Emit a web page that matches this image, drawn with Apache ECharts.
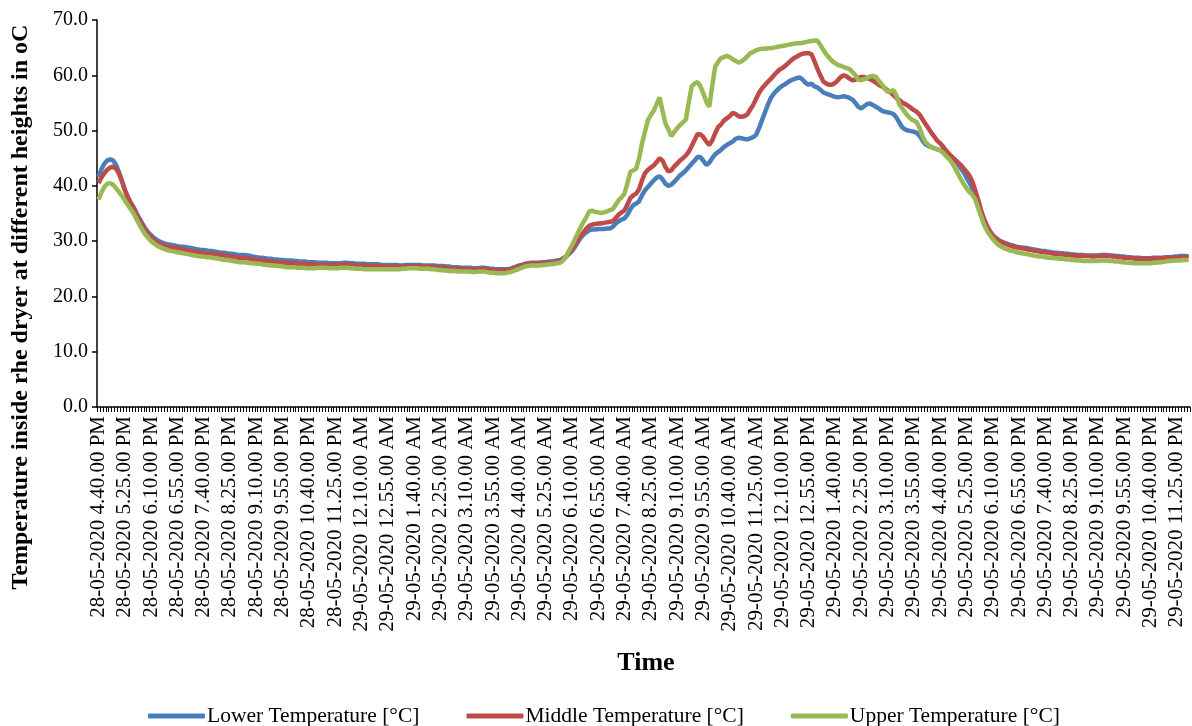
<!DOCTYPE html>
<html>
<head>
<meta charset="utf-8">
<script src="https://cdn.jsdelivr.net/npm/echarts@6/dist/echarts.min.js"></script>
<style>
html,body{margin:0;padding:0;background:#fff;}
#chart{width:1192px;height:726px;}
</style>
</head>
<body>
<div id="chart"></div>
<script>
// Tick labels shown on the x axis (every 9th 5-minute reading)
const tickLabels = [
"28-05-2020 4.40.00 PM","28-05-2020 5.25.00 PM","28-05-2020 6.10.00 PM","28-05-2020 6.55.00 PM",
"28-05-2020 7.40.00 PM","28-05-2020 8.25.00 PM","28-05-2020 9.10.00 PM","28-05-2020 9.55.00 PM",
"28-05-2020 10.40.00 PM","28-05-2020 11.25.00 PM","29-05-2020 12.10.00 AM","29-05-2020 12.55.00 AM",
"29-05-2020 1.40.00 AM","29-05-2020 2.25.00 AM","29-05-2020 3.10.00 AM","29-05-2020 3.55.00 AM",
"29-05-2020 4.40.00 AM","29-05-2020 5.25.00 AM","29-05-2020 6.10.00 AM","29-05-2020 6.55.00 AM",
"29-05-2020 7.40.00 AM","29-05-2020 8.25.00 AM","29-05-2020 9.10.00 AM","29-05-2020 9.55.00 AM",
"29-05-2020 10.40.00 AM","29-05-2020 11.25.00 AM","29-05-2020 12.10.00 PM","29-05-2020 12.55.00 PM",
"29-05-2020 1.40.00 PM","29-05-2020 2.25.00 PM","29-05-2020 3.10.00 PM","29-05-2020 3.55.00 PM",
"29-05-2020 4.40.00 PM","29-05-2020 5.25.00 PM","29-05-2020 6.10.00 PM","29-05-2020 6.55.00 PM",
"29-05-2020 7.40.00 PM","29-05-2020 8.25.00 PM","29-05-2020 9.10.00 PM","29-05-2020 9.55.00 PM",
"29-05-2020 10.40.00 PM","29-05-2020 11.25.00 PM"
];

const lowerTemp = [
41.6,43.0,44.0,44.6,44.8,44.6,43.8,42.5,41.0,
39.3,38.0,37.0,36.2,35.1,34.1,33.2,32.3,31.6,
31.1,30.6,30.2,29.9,29.7,29.5,29.4,29.3,29.2,
29.1,29.0,29.0,28.9,28.8,28.7,28.6,28.5,28.4,
28.4,28.3,28.2,28.2,28.1,28.0,27.9,27.9,27.8,
27.7,27.7,27.6,27.5,27.5,27.5,27.4,27.3,27.2,
27.1,27.0,27.0,26.9,26.8,26.8,26.7,26.7,26.6,
26.6,26.5,26.5,26.5,26.4,26.4,26.3,26.3,26.3,
26.2,26.2,26.2,26.1,26.1,26.1,26.1,26.0,26.0,
26.0,26.0,26.0,26.1,26.1,26.0,26.0,25.9,25.9,
25.9,25.9,25.8,25.8,25.8,25.8,25.8,25.7,25.7,
25.7,25.7,25.7,25.7,25.6,25.6,25.7,25.7,25.7,
25.7,25.7,25.7,25.6,25.6,25.6,25.6,25.6,25.5,
25.5,25.5,25.4,25.4,25.3,25.3,25.3,25.2,25.2,
25.2,25.2,25.1,25.1,25.1,25.2,25.2,25.1,25.0,
25.0,24.9,24.9,24.9,24.9,24.9,25.0,25.2,25.4,
25.6,25.7,25.9,26.0,26.1,26.1,26.1,26.1,26.2,
26.2,26.3,26.3,26.4,26.5,26.6,26.9,27.2,27.7,
28.2,28.9,29.8,30.6,31.2,31.6,32.0,32.1,32.1,
32.2,32.2,32.2,32.3,32.3,32.6,33.2,33.6,33.9,
34.1,34.8,35.8,36.5,36.8,37.2,38.3,39.2,39.8,
40.4,41.0,41.5,41.7,41.2,40.4,40.0,40.2,40.7,
41.3,41.9,42.3,42.8,43.4,44.0,44.6,45.2,45.2,
44.5,43.8,44.2,45.0,45.7,46.1,46.5,47.0,47.4,
47.7,48.0,48.5,48.7,48.6,48.5,48.4,48.6,48.8,
49.2,50.4,51.8,53.2,54.6,55.8,56.6,57.2,57.7,
58.1,58.4,58.8,59.1,59.3,59.5,59.6,59.2,58.6,
58.3,58.5,58.0,57.8,57.4,56.9,56.7,56.5,56.3,
56.1,56.0,56.1,56.2,56.1,55.9,55.6,55.0,54.3,
54.0,54.4,54.8,54.9,54.6,54.3,54.0,53.6,53.4,
53.3,53.2,53.0,52.4,51.5,50.6,50.2,50.0,49.9,
49.8,49.6,49.0,48.2,47.5,47.2,47.0,46.8,46.6,
46.5,46.2,45.9,45.6,45.3,44.8,44.0,43.2,42.5,
41.5,40.6,39.5,38.2,36.7,35.3,33.9,32.7,31.8,
31.1,30.6,30.2,29.9,29.7,29.5,29.3,29.2,29.0,
28.9,28.8,28.8,28.7,28.6,28.5,28.4,28.3,28.2,
28.2,28.1,28.0,27.9,27.9,27.8,27.8,27.7,27.7,
27.6,27.6,27.5,27.5,27.5,27.4,27.4,27.4,27.4,
27.4,27.5,27.5,27.5,27.4,27.4,27.3,27.3,27.2,
27.2,27.1,27.1,27.0,27.0,27.0,26.9,26.9,26.9,
26.9,27.0,27.0,27.0,27.0,27.1,27.1,27.1,27.2,
27.2,27.3,27.3,27.3,27.2
];

const middleTemp = [
40.5,41.5,42.3,42.9,43.3,43.5,43.1,42.2,40.9,
39.3,38.0,36.9,35.9,34.8,33.8,32.9,32.0,31.3,
30.7,30.2,29.8,29.5,29.3,29.1,29.0,28.9,28.8,
28.7,28.6,28.5,28.4,28.3,28.2,28.1,28.0,27.9,
27.9,27.8,27.8,27.7,27.6,27.6,27.5,27.4,27.3,
27.2,27.2,27.1,27.0,27.0,27.0,26.9,26.8,26.7,
26.6,26.6,26.5,26.4,26.4,26.3,26.3,26.2,26.1,
26.1,26.0,26.0,26.0,26.0,25.9,25.9,25.9,25.8,
25.8,25.8,25.8,25.7,25.7,25.7,25.7,25.7,25.7,
25.7,25.7,25.7,25.8,25.8,25.7,25.7,25.6,25.6,
25.6,25.6,25.5,25.5,25.5,25.5,25.5,25.4,25.4,
25.4,25.4,25.4,25.4,25.4,25.4,25.4,25.5,25.5,
25.5,25.5,25.5,25.4,25.4,25.4,25.4,25.3,25.3,
25.3,25.2,25.2,25.1,25.1,25.1,25.0,25.0,25.0,
25.0,24.9,24.9,24.9,24.9,25.0,25.0,24.9,24.8,
24.8,24.7,24.7,24.7,24.7,24.8,24.9,25.1,25.3,
25.5,25.7,25.8,25.9,26.0,26.0,26.0,26.0,26.1,
26.1,26.1,26.2,26.2,26.3,26.4,26.7,27.2,27.8,
28.5,29.3,30.2,30.9,31.6,32.3,32.8,33.0,33.1,
33.2,33.2,33.3,33.4,33.5,33.6,34.2,34.8,35.2,
35.6,36.6,37.8,38.3,38.6,39.4,41.0,42.3,42.9,
43.3,43.7,44.3,45.0,44.6,43.4,42.6,42.8,43.5,
44.0,44.6,45.0,45.5,46.2,47.2,48.3,49.4,49.3,
48.8,48.0,47.4,48.2,49.5,50.6,51.1,51.8,52.2,
52.6,53.2,53.0,52.6,52.5,52.6,52.9,53.8,54.6,
55.7,56.8,57.6,58.2,58.8,59.3,59.9,60.5,61.0,
61.3,61.7,62.2,62.7,63.1,63.4,63.7,63.9,64.0,
64.0,63.8,62.5,61.2,60.0,58.9,58.5,58.3,58.3,
58.6,59.1,59.7,60.0,59.8,59.4,59.1,59.2,59.5,
59.7,59.7,59.5,59.3,59.0,58.7,58.3,58.0,57.7,
57.3,56.9,56.4,55.9,55.5,55.1,54.8,54.5,54.1,
53.7,53.4,52.9,52.0,51.2,50.4,49.6,48.9,48.2,
47.7,47.1,46.4,45.8,45.2,44.7,44.3,43.8,43.2,
42.6,41.9,40.8,39.2,37.5,35.6,34.0,32.8,31.8,
31.0,30.5,30.1,29.8,29.6,29.4,29.2,29.0,28.9,
28.8,28.7,28.6,28.5,28.4,28.3,28.2,28.1,28.0,
28.0,27.9,27.8,27.7,27.7,27.6,27.6,27.5,27.5,
27.4,27.4,27.3,27.3,27.3,27.3,27.3,27.2,27.2,
27.3,27.3,27.4,27.3,27.3,27.2,27.2,27.1,27.1,
27.0,27.0,26.9,26.9,26.8,26.8,26.8,26.8,26.8,
26.8,26.8,26.9,26.9,26.9,26.9,27.0,27.0,27.0,
27.0,27.1,27.1,27.1,27.0
];

const upperTemp = [
37.5,38.8,39.8,40.4,40.5,40.2,39.6,38.9,38.2,
37.4,36.6,35.8,35.0,34.0,33.0,32.1,31.2,30.6,
30.0,29.6,29.2,28.9,28.7,28.5,28.3,28.2,28.1,
28.0,27.9,27.8,27.7,27.6,27.5,27.4,27.3,27.2,
27.2,27.1,27.1,27.0,26.9,26.8,26.7,26.6,26.6,
26.5,26.4,26.3,26.2,26.2,26.2,26.1,26.0,26.0,
25.9,25.9,25.8,25.7,25.7,25.6,25.6,25.5,25.5,
25.4,25.3,25.3,25.3,25.3,25.2,25.2,25.2,25.1,
25.1,25.1,25.1,25.2,25.2,25.2,25.2,25.1,25.1,
25.1,25.1,25.2,25.2,25.2,25.1,25.1,25.0,25.0,
25.0,24.9,24.9,24.9,24.9,24.9,24.9,24.9,24.9,
24.9,24.9,24.9,24.9,24.9,25.0,25.0,25.1,25.1,
25.1,25.1,25.0,25.0,25.0,25.0,24.9,24.9,24.8,
24.8,24.7,24.7,24.6,24.6,24.6,24.5,24.5,24.5,
24.5,24.5,24.4,24.4,24.5,24.5,24.5,24.4,24.3,
24.3,24.2,24.2,24.2,24.2,24.3,24.4,24.6,24.8,
25.0,25.2,25.4,25.5,25.6,25.6,25.6,25.6,25.7,
25.7,25.8,25.8,25.9,26.0,26.1,26.5,27.2,28.3,
29.2,30.3,31.4,32.5,33.5,34.4,35.4,35.5,35.3,
35.2,35.1,35.2,35.4,35.6,35.8,36.6,37.4,37.9,
38.6,40.5,42.5,42.8,43.1,45.0,47.7,49.8,51.9,
52.8,53.6,54.8,56.0,53.6,51.3,50.2,49.0,49.7,
50.4,51.0,51.5,52.0,55.2,58.0,58.5,58.8,58.0,
56.7,55.2,54.3,58.0,61.5,62.4,63.1,63.3,63.5,
63.3,62.9,62.6,62.3,62.5,62.9,63.4,64.0,64.2,
64.5,64.7,64.8,64.8,64.9,64.9,65.0,65.1,65.2,
65.3,65.4,65.5,65.6,65.7,65.8,65.8,65.9,66.0,
66.1,66.2,66.3,66.3,65.5,64.6,63.8,63.2,62.6,
62.2,61.9,61.7,61.5,61.3,61.1,60.6,60.0,59.2,
59.1,59.3,59.5,59.8,59.9,59.7,59.0,58.4,57.6,
57.0,57.1,57.3,56.4,54.8,54.0,53.3,52.6,52.1,
51.8,51.5,50.4,49.0,47.9,47.4,47.0,46.8,46.6,
46.4,46.0,45.4,44.9,44.2,43.3,42.3,41.3,40.4,
39.6,38.9,38.4,37.6,36.0,34.5,33.0,31.9,31.1,
30.4,29.8,29.3,29.0,28.7,28.5,28.3,28.2,28.0,
27.9,27.8,27.7,27.6,27.5,27.4,27.3,27.2,27.2,
27.1,27.0,27.0,26.9,26.9,26.8,26.8,26.7,26.7,
26.6,26.6,26.5,26.5,26.4,26.4,26.4,26.4,26.4,
26.4,26.5,26.5,26.5,26.4,26.4,26.3,26.3,26.2,
26.2,26.1,26.1,26.0,26.0,26.0,26.0,26.0,26.0,
26.0,26.1,26.1,26.2,26.2,26.3,26.4,26.4,26.5,
26.5,26.5,26.6,26.6,26.6
];

const seriesNames = ["Lower Temperature [°C]", "Middle Temperature [°C]", "Upper Temperature [°C]"];
const seriesColors = ["#4A7EBB", "#BE4B48", "#98B954"];

// Category labels: one per 5-minute reading starting 28-05-2020 4.40 PM
const categories = [];
(function () {
  const start = 16 * 60 + 40;
  for (let i = 0; i < lowerTemp.length; i++) {
    const t = start + 5 * i;
    const day = 28 + Math.floor(t / 1440);
    const m = t % 1440;
    const h24 = Math.floor(m / 60);
    const mm = m % 60;
    const ap = h24 < 12 ? "AM" : "PM";
    const h12 = (h24 % 12) || 12;
    categories.push(day + "-05-2020 " + h12 + "." + (mm < 10 ? "0" + mm : mm) + ".00 " + ap);
  }
})();

const FONT = "'Liberation Serif','Times New Roman',serif";
const chart = echarts.init(document.getElementById('chart'), null, {renderer: 'canvas'});
chart.setOption({
  animation: false,
  backgroundColor: '#ffffff',
  color: seriesColors,
  grid: {left: 97, right: 2, top: 20, bottom: 319, containLabel: false},
  legend: {
    data: seriesNames,
    left: 143, top: 700,
    icon: 'roundRect',
    itemWidth: 57, itemHeight: 5, itemGap: 47,
    textStyle: {fontFamily: FONT, fontSize: 21.5, color: '#000', padding: [0, 0, 0, -3]}
  },
  xAxis: {
    type: 'category',
    data: categories,
    boundaryGap: true,
    axisLine: {lineStyle: {color: '#000', width: 1.5}},
    axisTick: {show: true, interval: 0, length: 5, lineStyle: {color: '#000', width: 1}},
    axisLabel: {
      interval: function (index) { return index % 9 === 0; },
      formatter: function (value, index) { return tickLabels[index / 9] || value; },
      rotate: 90, margin: 9,
      fontFamily: FONT, fontSize: 21, color: '#000'
    },
    splitLine: {show: false}
  },
  yAxis: {
    type: 'value',
    min: 0, max: 70, interval: 10,
    axisLine: {show: true, lineStyle: {color: '#000', width: 1.5}},
    axisTick: {show: true, length: 5, lineStyle: {color: '#000', width: 1.5}},
    axisLabel: {
      formatter: function (v) { return v.toFixed(1); },
      margin: 9, fontFamily: FONT, fontSize: 20, color: '#000'
    },
    splitLine: {show: false}
  },
  graphic: [
    {type: 'text', x: 21, y: 307, rotation: Math.PI / 2,
     style: {text: 'Temperature inside rhe dryer at different heights in oC', font: "bold 24px 'Liberation Serif'", fill: '#000', align: 'center', verticalAlign: 'middle'}},
    {type: 'text', x: 646, y: 663,
     style: {text: 'Time', font: "bold 26px 'Liberation Serif'", fill: '#000', align: 'center', verticalAlign: 'middle'}}
  ],
  series: [
    {name: seriesNames[0], type: 'line', data: lowerTemp, showSymbol: false, symbol: 'none', lineStyle: {width: 4.5, color: seriesColors[0]}},
    {name: seriesNames[1], type: 'line', data: middleTemp, showSymbol: false, symbol: 'none', lineStyle: {width: 4.5, color: seriesColors[1]}},
    {name: seriesNames[2], type: 'line', data: upperTemp, showSymbol: false, symbol: 'none', lineStyle: {width: 4.5, color: seriesColors[2]}}
  ]
});
</script>
</body>
</html>
